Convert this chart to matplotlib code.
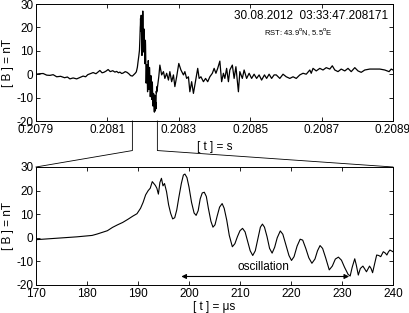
import numpy as np
import matplotlib
matplotlib.use("Agg")
import matplotlib.pyplot as plt
from matplotlib.lines import Line2D

plt.rcParams['font.family'] = ['Liberation Sans', 'DejaVu Sans']
plt.rcParams['font.size'] = 8.5
plt.rcParams['axes.unicode_minus'] = False
plt.rcParams['xtick.direction'] = 'in'
plt.rcParams['ytick.direction'] = 'in'
plt.rcParams['xtick.top'] = True
plt.rcParams['ytick.right'] = True
plt.rcParams['axes.linewidth'] = 0.7

# zoomed record: time in microseconds after 0.208 s, field in nT
t_zoom = [170.0, 172, 174, 176, 178, 180, 181, 182, 183, 184, 185, 186, 187, 188, 189, 189.8,
          190.5, 191, 191.5, 192, 192.4, 192.8, 193.1, 193.4, 193.7, 194.0, 194.3, 194.6, 194.9,
          195.2, 195.6, 196.0, 196.4, 196.8, 197.2, 197.6, 198.0, 198.5, 198.9, 199.2, 199.6,
          200.0, 200.5, 201.0, 201.4, 201.8, 202.2, 202.6, 203.0, 203.4, 203.8, 204.3, 204.7,
          205.1, 205.5, 206.0, 206.5, 206.9, 207.4, 207.9, 208.5, 209.0, 209.5, 210.0, 210.5,
          211.0, 211.5, 212.0, 212.5, 213.0, 213.5, 214.0, 214.4, 214.8, 215.3, 215.8, 216.3,
          216.8, 217.3, 217.9, 218.4, 219.0, 219.6, 220.1, 220.6, 221.2, 221.8, 222.3, 222.9,
          223.5, 224.1, 224.7, 225.2, 225.7, 226.2, 226.8, 227.5, 228.1, 228.7, 229.3, 229.9,
          230.5, 231.2, 231.6, 232.0, 232.5, 232.8, 233.2, 233.6, 234.1, 234.4, 234.8, 235.4,
          235.7, 236.0, 236.4, 236.8, 237.2, 237.6, 238.1, 238.5, 238.8, 239.1, 239.4, 240.0]
b_zoom = [-0.8, -0.5, -0.2, 0.1, 0.4, 0.8, 1.0, 1.6, 2.3, 3.0, 4.4, 5.5, 6.5, 7.8, 9.2, 10.2,
          12.5, 15.0, 18.2, 20.0, 21.0, 23.8, 23.0, 22.2, 21.0, 18.5, 23.5, 25.2, 22.0,
          23.0, 19.5, 14.0, 10.4, 8.0, 8.5, 11.8, 17.0, 23.0, 26.6, 27.0, 25.5,
          21.5, 15.0, 10.5, 9.5, 11.5, 16.5, 19.0, 19.3, 17.5, 12.5, 7.0, 4.5,
          5.5, 9.0, 13.0, 14.5, 12.5, 7.5, 1.0, -3.8, -2.5, 0.5, 3.0, 4.0,
          2.5, -1.5, -5.5, -7.5, -5.5, -0.5, 4.5, 5.8, 4.5, 0.5, -4.5, -6.5,
          -4.0, 0.0, 2.9, 1.5, -3.0, -7.5, -9.6, -8.0, -3.5, -0.6, -1.0, -4.5,
          -8.5, -10.8, -9.0, -5.5, -3.3, -4.5, -8.5, -13.6, -12.0, -9.0, -8.2, -9.5,
          -12.5, -15.5, -16.2, -12.5, -8.9, -11.5, -15.8, -13.0, -12.0, -13.0, -14.4, -12.0,
          -13.0, -14.8, -11.0, -7.3, -7.5, -8.0, -5.9, -6.5, -7.3, -6.0, -5.2, -5.9]

# full record outside the zoom window (microseconds after 0.208 s)
t_before = [-100, -90, -80, -70, -61, -52, -42, -31, -20, -12, -5, 4, 14, 23, 32, 39, 45, 52, 60,
            68, 79, 85, 90, 96, 102, 108, 115, 121, 126, 131, 135, 140, 144, 150, 155, 160, 165]
b_before = [0.0, 0.2, 0.3, -0.4, -0.5, -0.2, -1.1, -0.9, -1.5, -1.2, -2.0, -1.6, -2.0, -1.4, -0.8,
            -1.1, -0.2, 0.2, 0.7, 0.2, 1.6, 0.6, 0.8, 1.3, 2.0, 1.1, 1.5, 0.9, 1.2, 0.6, 0.9, 0.3,
            0.5, 1.1, 0.8, 0.2, -0.6]
t_after = [244, 247, 252, 257, 261, 266, 271, 275, 280, 285, 289, 294, 300, 306, 313, 317, 322,
           327, 331, 336, 341, 345, 350, 353, 357, 362, 369, 375, 381, 387, 394, 399, 404, 409,
           415, 420, 425, 429, 434, 439, 443, 450, 455, 460, 467, 471, 478, 483, 490, 497, 504,
           511, 518, 525, 532, 540, 546, 553, 560, 567, 573, 583, 592, 601, 611, 620, 629, 639,
           648, 657, 667, 671, 676, 685, 695, 704, 713, 723, 730, 737, 746, 755, 765, 774, 783,
           793, 802, 811, 821, 835, 849, 863, 877, 889, 895, 900]
b_after = [-1.0, 3.9, -0.3, 1.1, -1.8, 0.4, -2.5, 1.1, -3.2, -0.3, -5.3, -1.1, 4.6, 1.8, -0.3,
           1.1, -1.8, -1.1, -7.5, -3.2, -8.2, -4.6, -0.3, 2.5, -1.8, -1.1, -3.2, -1.8, -3.2, -1.1,
           0.4, 2.5, 0.4, 2.5, 5.6, -3.2, 0.4, -1.8, 2.5, -3.2, 1.8, 3.9, -1.8, 3.2, -7.5, 1.1,
           -1.8, 1.8, -1.8, 0.4, -1.8, 0.0, -1.8, -0.3, -2.5, -0.3, -1.8, 0.0, -1.8, -0.3, -0.3,
           -1.8, 0.0, -1.1, -1.8, -1.1, -1.8, -0.3, 0.4, 0.0, 1.8, 0.4, 2.5, 1.4, 2.5, 1.8, 2.8,
           2.2, 3.6, 1.8, 1.1, 2.2, 1.4, 2.5, 1.1, 2.8, 1.4, 0.8, 1.8, 2.2, 2.2, 2.2, 1.8, 1.1,
           2.2, 1.8]

top_ticks = [0.2079, 0.2081, 0.2083, 0.2085, 0.2087, 0.2089]
bottom_ticks = [170, 180, 190, 200, 210, 220, 230, 240]
zoom_range = (170, 240)

t_full = np.array(t_before + t_zoom + t_after) * 1e-6 + 0.208
b_full = np.array(b_before + b_zoom + b_after)

fig = plt.figure(figsize=(4.10, 3.13), dpi=100)
ax1 = fig.add_axes([0.0878, 0.6134, 0.8707, 0.3738])
ax2 = fig.add_axes([0.0878, 0.0895, 0.8707, 0.3770])

# top panel
ax1.plot(t_full, b_full, color='black', lw=0.9)
ax1.set_xlim(0.2079, 0.2089)
ax1.set_ylim(-20, 30)
ax1.set_xticks(top_ticks)
ax1.set_xticklabels(['%.4f' % v for v in top_ticks])
ax1.set_yticks([-20, -10, 0, 10, 20, 30])
ax1.set_xlabel('[ t ] = s', labelpad=4)
ax1.set_ylabel('[ B ] = nT', va='center')
ax1.text(0.985, 0.9, '30.08.2012  03:33:47.208171', transform=ax1.transAxes,
         ha='right', va='center', fontsize=8.5)
ax1.text(0.735, 0.76, r'RST: 43.9$^{\rm o}$N, 5.5$^{\rm o}$E', transform=ax1.transAxes,
         ha='center', va='center', fontsize=5.5)

# bottom panel
ax2.plot(t_zoom, b_zoom, color='black', lw=0.8)
ax2.set_xlim(*zoom_range)
ax2.set_ylim(-20, 30)
ax2.set_xticks(bottom_ticks)
ax2.set_yticks([-20, -10, 0, 10, 20, 30])
ax2.set_xlabel('[ t ] = \u03bcs', labelpad=1)
ax2.set_ylabel('[ B ] = nT', va='center')
ax2.annotate('', xy=(198.5, -16.4), xytext=(231.4, -16.4),
             arrowprops=dict(arrowstyle='<|-|>', color='black', lw=0.8,
                             mutation_scale=7, shrinkA=0, shrinkB=0))
ax2.text(214.5, -12.4, 'oscillation', ha='center', va='center', fontsize=8.5)

for ax in (ax1, ax2):
    ax.tick_params(length=3, width=0.6, pad=2, labelsize=8.5)
    ax.yaxis.set_label_coords(-0.078, 0.5)

# zoom connector lines
fig.canvas.draw()
inv = fig.transFigure.inverted()
mid_y = 0.519
for t_us, corner in ((zoom_range[0], 0.0), (zoom_range[1], 1.0)):
    x_top = 0.208 + t_us * 1e-6
    p0 = inv.transform(ax1.transData.transform((x_top, -20)))
    p2 = inv.transform(ax2.transAxes.transform((corner, 1.0)))
    line = Line2D([p0[0], p0[0], p2[0]], [p0[1], mid_y, p2[1]],
                  transform=fig.transFigure, color='black', lw=0.6)
    fig.add_artist(line)

fig.savefig('out.png', dpi=100)
